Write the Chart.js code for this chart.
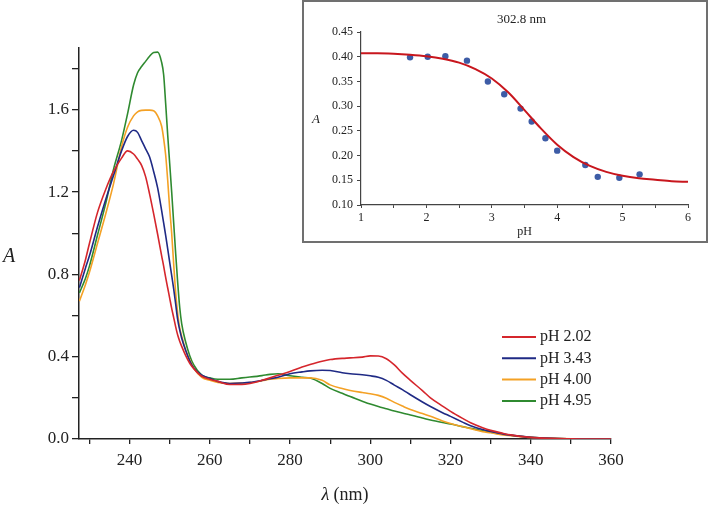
<!DOCTYPE html>
<html>
<head>
<meta charset="utf-8">
<script src="https://cdn.jsdelivr.net/npm/chart.js@4.4.1/dist/chart.umd.min.js"></script>
<style>
  html, body { margin: 0; padding: 0; background: #fff; }
  #wrap { position: relative; width: 712px; height: 508px; }
  #main { position: absolute; left: 0; top: 0; }
  #inset { position: absolute; left: 302px; top: 0; width: 406px; height: 243px;
           border: 2px solid #707070; box-sizing: border-box; background: #fff; }
  #insetCanvas { display: block; }
</style>
</head>
<body>
<div id="wrap">
  <canvas id="main" width="712" height="508"></canvas>
  <div id="inset"><canvas id="insetCanvas" width="402" height="239"></canvas></div>
</div>
<script>
// ---- main spectra ----
const wavelengths = [227.5, 229, 230, 232, 234, 236, 238, 239.5, 241, 242,
  243, 244, 245, 246, 247, 248, 248.5, 249, 249.5, 250,
  250.5, 251, 251.5, 252, 252.5, 253, 254, 255, 256, 258,
  260, 262, 265, 268, 270, 273, 275, 277, 280, 283,
  285, 288, 290, 293, 295, 298, 300, 302, 304, 306,
  308, 310, 313, 315, 318, 320, 323, 325, 328, 330,
  333, 335, 340, 345, 350, 355, 360];

const absPH202 = [0.77, 0.87, 0.95, 1.10, 1.21, 1.30, 1.365, 1.40, 1.385, 1.36,
  1.33, 1.275, 1.19, 1.095, 0.995, 0.89, 0.84, 0.785, 0.735, 0.685,
  0.635, 0.59, 0.545, 0.505, 0.475, 0.45, 0.405, 0.368, 0.342, 0.305,
  0.29, 0.28, 0.265, 0.265, 0.27, 0.285, 0.297, 0.31, 0.328, 0.35,
  0.362, 0.378, 0.386, 0.392, 0.394, 0.398, 0.404, 0.403, 0.39, 0.36,
  0.32, 0.285, 0.235, 0.20, 0.16, 0.134, 0.10, 0.079, 0.055, 0.042,
  0.028, 0.02, 0.008, 0.003, 0.001, 0, 0];

const absPH343 = [0.735, 0.83, 0.89, 1.03, 1.16, 1.28, 1.40, 1.47, 1.50, 1.49,
  1.45, 1.41, 1.37, 1.30, 1.22, 1.11, 1.05, 0.99, 0.925, 0.86,
  0.795, 0.73, 0.655, 0.58, 0.53, 0.49, 0.43, 0.38, 0.345, 0.31,
  0.295, 0.28, 0.27, 0.272, 0.275, 0.285, 0.293, 0.30, 0.317, 0.326,
  0.331, 0.334, 0.333, 0.322, 0.317, 0.312, 0.307, 0.30, 0.285, 0.262,
  0.24, 0.215, 0.18, 0.158, 0.128, 0.11, 0.082, 0.064, 0.046, 0.037,
  0.025, 0.019, 0.008, 0.003, 0.001, 0, 0];

const absPH400 = [0.67, 0.75, 0.81, 0.95, 1.09, 1.24, 1.42, 1.515, 1.57, 1.59,
  1.597, 1.598, 1.598, 1.595, 1.57, 1.52, 1.46, 1.38, 1.26, 1.12,
  1.00, 0.85, 0.71, 0.61, 0.54, 0.50, 0.43, 0.385, 0.345, 0.30,
  0.285, 0.275, 0.27, 0.272, 0.274, 0.283, 0.29, 0.294, 0.297, 0.297,
  0.297, 0.285, 0.263, 0.245, 0.236, 0.226, 0.22, 0.212, 0.198, 0.178,
  0.16, 0.143, 0.124, 0.11, 0.088, 0.075, 0.06, 0.05, 0.036, 0.03,
  0.02, 0.016, 0.007, 0.003, 0.001, 0, 0];

const absPH495 = [0.71, 0.78, 0.84, 0.99, 1.14, 1.31, 1.45, 1.58, 1.72, 1.78,
  1.81, 1.835, 1.86, 1.878, 1.88, 1.83, 1.77, 1.63, 1.48, 1.34,
  1.20, 1.05, 0.90, 0.76, 0.64, 0.56, 0.47, 0.405, 0.36, 0.31,
  0.297, 0.29, 0.29, 0.297, 0.301, 0.308, 0.314, 0.317, 0.307, 0.30,
  0.296, 0.27, 0.246, 0.222, 0.206, 0.184, 0.17, 0.158, 0.147, 0.136,
  0.126, 0.117, 0.102, 0.092, 0.08, 0.073, 0.06, 0.052, 0.04, 0.033,
  0.023, 0.018, 0.008, 0.003, 0.001, 0, 0];

const seriesLabels = ['pH 2.02', 'pH 3.43', 'pH 4.00', 'pH 4.95'];
const seriesColors = ['#d5262c', '#1f2a85', '#f4a125', '#2f8a30'];

const mainXTicks = [230, 240, 250, 260, 270, 280, 290, 300, 310, 320, 330, 340, 350, 360];
const mainYTicks = [0, 0.2, 0.4, 0.6, 0.8, 1.0, 1.2, 1.4, 1.6, 1.8];

// ---- inset: absorbance at 302.8 nm vs pH ----
const insetPH = [1.75, 2.02, 2.29, 2.62, 2.94, 3.19, 3.44, 3.61, 3.82, 4.00, 4.43, 4.62, 4.95, 5.26];
const insetA  = [0.399, 0.400, 0.401, 0.392, 0.350, 0.324, 0.295, 0.269, 0.235, 0.210, 0.181, 0.157, 0.155, 0.162];

const fitPH = [1, 1.25, 1.5, 1.75, 2, 2.25, 2.5, 2.75, 3, 3.25, 3.5,
  3.75, 4, 4.25, 4.5, 4.75, 5, 5.25, 5.5, 5.75, 6];
const fitA  = [0.407, 0.407, 0.406, 0.404, 0.401, 0.396, 0.388, 0.375, 0.356, 0.328, 0.292,
  0.255, 0.222, 0.197, 0.179, 0.167, 0.159, 0.154, 0.151, 0.148, 0.147];

const insetXTicks = [1, 1.5, 2, 2.5, 3, 3.5, 4, 4.5, 5, 5.5, 6];
const insetYTicks = [0.10, 0.15, 0.20, 0.25, 0.30, 0.35, 0.40, 0.45];

const SERIF = '"Liberation Serif", "Times New Roman", serif';

// Axis titles and legend drawn by hand so the italics and placement match.
const mainText = {
  id: 'mainText',
  afterDraw(chart) {
    const { ctx, chartArea: a } = chart;
    ctx.save();
    ctx.fillStyle = '#222';
    ctx.textBaseline = 'middle';

    ctx.font = 'italic 20px ' + SERIF;
    ctx.textAlign = 'center';
    ctx.fillText('A', 9, 257);

    // λ (nm)
    const cx = (a.left + a.right) / 2;
    ctx.font = 'italic 18px ' + SERIF;
    const w1 = ctx.measureText('λ').width;
    ctx.font = '18px ' + SERIF;
    const w2 = ctx.measureText('(nm)').width;
    const gap = 4;
    let x0 = cx - (w1 + gap + w2) / 2;
    ctx.textAlign = 'left';
    ctx.font = 'italic 18px ' + SERIF;
    ctx.fillText('λ', x0, a.bottom + 56);
    ctx.font = '18px ' + SERIF;
    ctx.fillText('(nm)', x0 + w1 + gap, a.bottom + 56);

    // legend
    ctx.font = '16px ' + SERIF;
    chart.data.datasets.forEach((ds, i) => {
      const y = 337 + i * 21.3;
      ctx.strokeStyle = ds.borderColor;
      ctx.lineWidth = 2;
      ctx.beginPath();
      ctx.moveTo(502, y);
      ctx.lineTo(536, y);
      ctx.stroke();
      ctx.fillStyle = '#222';
      ctx.fillText(ds.label, 540, y);
    });
    ctx.restore();
  }
};

new Chart(document.getElementById('main'), {
  type: 'line',
  data: {
    datasets: [absPH202, absPH343, absPH400, absPH495].map((vals, i) => ({
      label: seriesLabels[i],
      data: wavelengths.map((w, j) => ({ x: w, y: vals[j] })),
      borderColor: seriesColors[i],
      borderWidth: 1.6,
      pointRadius: 0,
      fill: false,
      cubicInterpolationMode: 'monotone'
    }))
  },
  options: {
    responsive: false,
    animation: false,
    layout: { padding: { top: 48, right: 101, left: 0, bottom: 0 } },
    plugins: { legend: { display: false }, tooltip: { enabled: false } },
    scales: {
      x: {
        type: 'linear',
        min: 227.4,
        max: 360,
        afterBuildTicks: s => { s.ticks = mainXTicks.map(v => ({ value: v })); },
        afterFit: s => { s.height = 69; },
        grid: { display: true, drawOnChartArea: false, drawTicks: true, tickLength: 5, color: '#222', lineWidth: 1.3 },
        border: { display: true, color: '#222', width: 1.5 },
        ticks: {
          color: '#222', padding: 6, maxRotation: 0, autoSkip: false,
          font: { family: SERIF, size: 17 },
          callback: v => (v % 20 === 0 ? String(v) : '')
        }
      },
      y: {
        min: 0,
        max: 1.9,
        afterBuildTicks: s => { s.ticks = mainYTicks.map(v => ({ value: v })); },
        afterFit: s => { s.width = 79; },
        grid: { display: true, drawOnChartArea: false, drawTicks: true, tickLength: 7, color: '#222', lineWidth: 1.3 },
        border: { display: true, color: '#222', width: 1.5 },
        ticks: {
          color: '#222', padding: 3, autoSkip: false,
          font: { family: SERIF, size: 17 },
          callback: v => (Math.round(v * 10) % 4 === 0 ? v.toFixed(1) : '')
        }
      }
    }
  },
  plugins: [mainText]
});

const insetText = {
  id: 'insetText',
  afterDraw(chart) {
    const { ctx, chartArea: a } = chart;
    const cx = (a.left + a.right) / 2;
    ctx.save();
    ctx.fillStyle = '#222';
    ctx.textAlign = 'center';
    ctx.textBaseline = 'middle';
    ctx.font = '13px ' + SERIF;
    ctx.fillText('302.8 nm', cx - 3, 18);
    ctx.font = '12px ' + SERIF;
    ctx.fillText('pH', cx, a.bottom + 27);
    ctx.font = 'italic 13px ' + SERIF;
    ctx.fillText('A', 12, 118);
    ctx.restore();
  }
};

new Chart(document.getElementById('insetCanvas'), {
  type: 'scatter',
  data: {
    datasets: [
      {
        label: 'fit',
        type: 'line',
        data: fitPH.map((p, i) => ({ x: p, y: fitA[i] })),
        borderColor: '#c8161d',
        borderWidth: 2,
        pointRadius: 0,
        fill: false,
        cubicInterpolationMode: 'monotone'
      },
      {
        label: 'measured',
        data: insetPH.map((p, i) => ({ x: p, y: insetA[i] })),
        backgroundColor: '#3d5ca6',
        borderColor: '#3d5ca6',
        pointRadius: 3.2,
        borderWidth: 0
      }
    ]
  },
  options: {
    responsive: false,
    animation: false,
    layout: { padding: { top: 30, right: 18, left: 0, bottom: 0 } },
    plugins: { legend: { display: false }, tooltip: { enabled: false } },
    scales: {
      x: {
        type: 'linear',
        min: 1,
        max: 6,
        afterBuildTicks: s => { s.ticks = insetXTicks.map(v => ({ value: v })); },
        afterFit: s => { s.height = 36; },
        grid: { display: true, drawOnChartArea: false, drawTicks: true, tickLength: 3, color: '#444' },
        border: { display: true, color: '#444', width: 1.2 },
        ticks: {
          color: '#222', padding: 3, maxRotation: 0, autoSkip: false,
          font: { family: SERIF, size: 12 },
          callback: v => (Number.isInteger(v) ? String(v) : '')
        }
      },
      y: {
        min: 0.10,
        max: 0.45,
        afterBuildTicks: s => { s.ticks = insetYTicks.map(v => ({ value: v })); },
        afterFit: s => { s.width = 57; },
        grid: { display: true, drawOnChartArea: false, drawTicks: true, tickLength: 4, color: '#444' },
        border: { display: true, color: '#444', width: 1.2 },
        ticks: {
          color: '#222', padding: 4, autoSkip: false,
          font: { family: SERIF, size: 12 },
          callback: v => v.toFixed(2)
        }
      }
    }
  },
  plugins: [insetText]
});
</script>
</body>
</html>
